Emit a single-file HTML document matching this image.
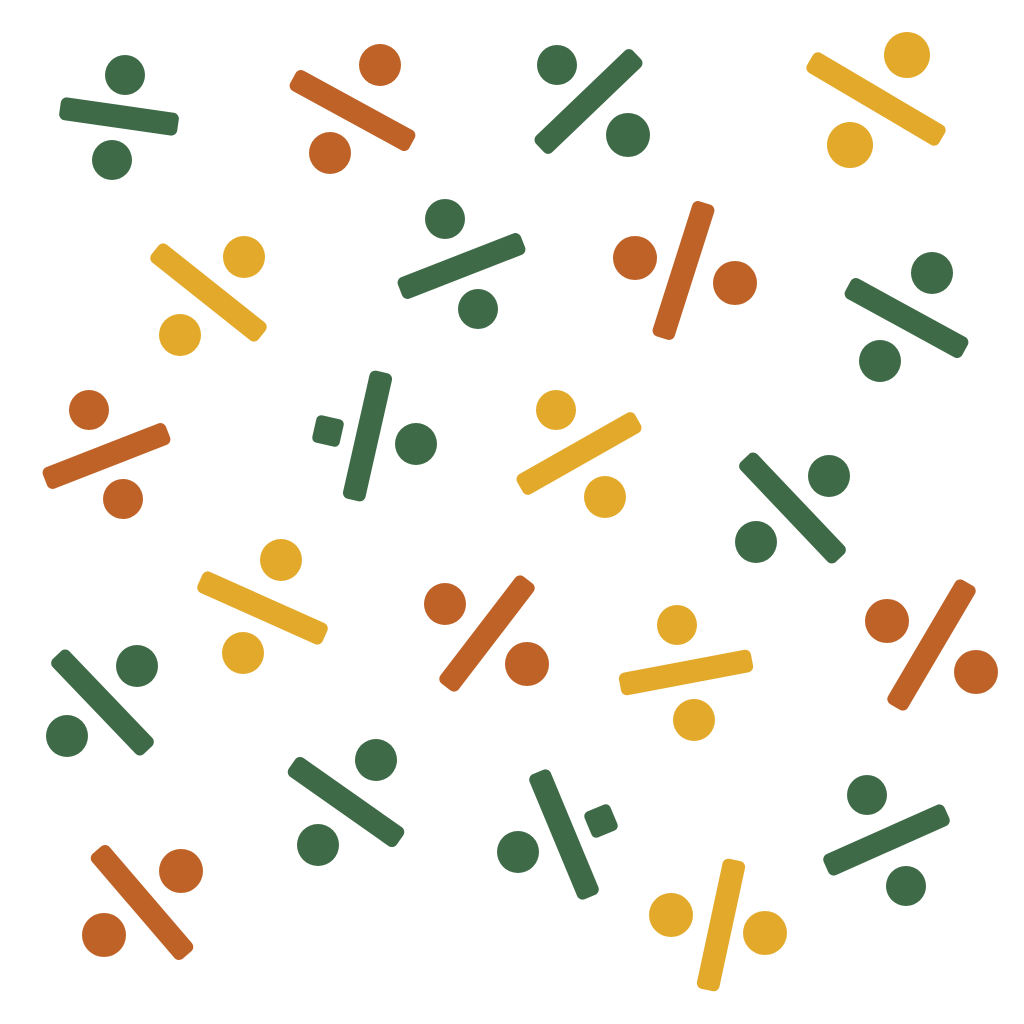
<!DOCTYPE html>
<html><head><meta charset="utf-8"><style>html,body{margin:0;padding:0;background:#fff}svg{display:block}</style></head>
<body>
<svg id="art" width="1024" height="1024" viewBox="0 0 1024 1024" xmlns="http://www.w3.org/2000/svg">
<rect width="1024" height="1024" fill="#ffffff"/>
</svg>
<script>
const C={g:"#3e6a47",o:"#bf6228",y:"#e3a92b"};
// [color, x1,y1,x2,y2, marks: [type,x,y,r]]
const symbols=[
["g",60,108,178,125,[["c",125,75,20],["c",112,160,20]]],
["o",293,78,412,143,[["c",380,65,21],["c",330,153,21]]],
["g",540,148,637,55,[["c",557,65,20],["c",628,135,22]]],
["y",810,60,942,138,[["c",907,55,23],["c",850,145,23]]],
["y",155,250,262,335,[["c",244,257,21],["c",180,335,21]]],
["g",400,290,523,242,[["c",445,219,20],["c",478,309,20]]],
["o",705,203,662,338,[["c",635,258,22],["c",735,283,22]]],
["g",848,286,965,350,[["c",932,273,21],["c",880,361,21]]],
["o",45,480,168,432,[["c",89,410,20],["c",123,499,20]]],
["g",382,372,353,500,[["s",328,431,14],["c",416,444,21]]],
["y",520,487,638,420,[["c",556,410,20],["c",605,497,21]]],
["g",745,458,840,558,[["c",829,476,21],["c",756,542,21]]],
["y",200,580,325,636,[["c",281,560,21],["c",243,653,21]]],
["o",528,580,446,687,[["c",445,604,21],["c",527,664,22]]],
["y",620,685,752,660,[["c",677,625,20],["c",694,720,21]]],
["o",968,583,895,707,[["c",887,621,22],["c",976,672,22]]],
["g",57,655,148,750,[["c",137,666,21],["c",67,736,21]]],
["g",292,764,400,840,[["c",376,760,21],["c",318,845,21]]],
["g",538,772,590,897,[["s",601,821,14],["c",518,852,21]]],
["g",826,867,947,813,[["c",867,795,20],["c",906,886,20]]],
["o",97,850,187,955,[["c",181,871,22],["c",104,935,22]]],
["y",735,860,707,990,[["c",671,915,22],["c",765,933,22]]]
];
const NS="http://www.w3.org/2000/svg",svg=document.getElementById('art');
symbols.forEach((s,i)=>{
  const [c,x1,y1,x2,y2,marks]=s;
  const g=document.createElementNS(NS,'g');
  
  
  const w=23,len=Math.hypot(x2-x1,y2-y1),ang=Math.atan2(y2-y1,x2-x1)*180/Math.PI;
  const cx=(x1+x2)/2,cy=(y1+y2)/2;
  const r=document.createElementNS(NS,'rect');
  r.setAttribute('x',cx-len/2);r.setAttribute('y',cy-w/2);
  r.setAttribute('width',len);r.setAttribute('height',w);
  r.setAttribute('rx',6);r.setAttribute('fill',C[c]);
  r.setAttribute('transform',`rotate(${ang} ${cx} ${cy})`);
  
  
  g.appendChild(r);
  marks.forEach(m=>{
    let e;
    if(m[0]==='c'){e=document.createElementNS(NS,'circle');e.setAttribute('cx',m[1]);e.setAttribute('cy',m[2]);e.setAttribute('r',m[3]);}
    else{e=document.createElementNS(NS,'rect');e.setAttribute('x',m[1]-m[3]);e.setAttribute('y',m[2]-m[3]);e.setAttribute('width',2*m[3]);e.setAttribute('height',2*m[3]);e.setAttribute('rx',5);e.setAttribute('transform',`rotate(${ang-90} ${m[1]} ${m[2]})`);}
    e.setAttribute('fill',C[c]);
    
    
    g.appendChild(e);
  });
  svg.appendChild(g);
});
</script>
</body></html>
